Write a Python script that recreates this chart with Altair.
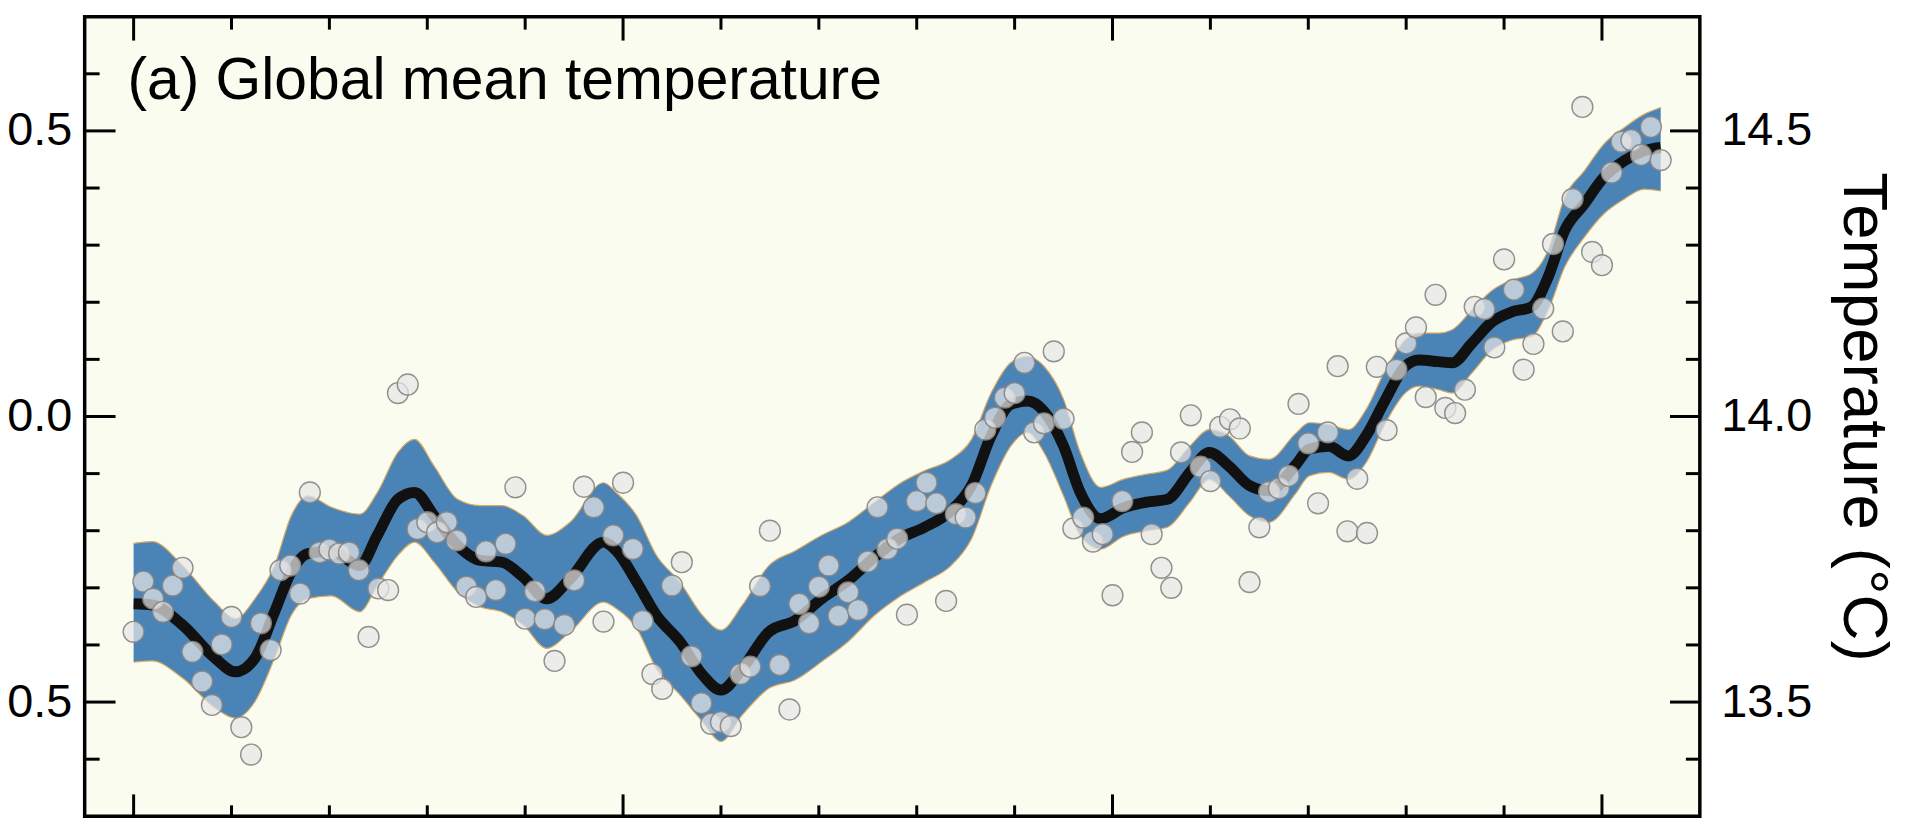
import altair as alt
import pandas as pd

# ---------------- data ----------------
years = list(range(1850, 2007))
anomaly = [
    -0.377, -0.289, -0.319, -0.342, -0.296, -0.265, -0.412, -0.464, -0.505, -0.399,  # 1850s
    -0.351, -0.544, -0.592, -0.362, -0.409, -0.269, -0.261, -0.310, -0.133, -0.238,  # 1860s
    -0.233, -0.240, -0.238, -0.269, -0.386, -0.301, -0.304, 0.041, 0.056, -0.197,    # 1870s
    -0.185, -0.203, -0.185, -0.217, -0.298, -0.316, -0.236, -0.304, -0.223, -0.124,  # 1880s
    -0.354, -0.306, -0.355, -0.428, -0.365, -0.287, -0.123, -0.159, -0.359, -0.208,  # 1890s
    -0.116, -0.232, -0.358, -0.451, -0.477, -0.296, -0.255, -0.420, -0.502, -0.538,  # 1900s
    -0.535, -0.542, -0.451, -0.438, -0.297, -0.200, -0.435, -0.513, -0.328, -0.362,  # 1910s
    -0.298, -0.261, -0.349, -0.308, -0.339, -0.254, -0.159, -0.232, -0.214, -0.347,  # 1920s
    -0.148, -0.116, -0.152, -0.323, -0.171, -0.177, -0.134, -0.023, -0.002, 0.033,   # 1930s
    0.041, 0.094, -0.028, -0.012, 0.114, -0.004, -0.196, -0.177, -0.219, -0.206,     # 1940s
    -0.313, -0.148, -0.062, -0.028, -0.206, -0.265, -0.300, -0.063, 0.002, -0.088,   # 1950s
    -0.113, -0.018, -0.005, -0.021, -0.290, -0.194, -0.132, -0.126, -0.104, 0.022,   # 1960s
    -0.047, -0.152, -0.028, 0.088, -0.201, -0.109, -0.204, 0.087, -0.024, 0.082,     # 1970s
    0.128, 0.156, 0.034, 0.213, 0.015, 0.006, 0.047, 0.192, 0.188, 0.121,            # 1980s
    0.275, 0.222, 0.082, 0.127, 0.189, 0.302, 0.149, 0.381, 0.542, 0.288,            # 1990s
    0.265, 0.427, 0.481, 0.484, 0.458, 0.507, 0.449,                                 # 2000s
]

smooth_year = [1850.0, 1851.9, 1855.0, 1858.3, 1860.4, 1862.4, 1864.4, 1866.1, 1867.8, 1870.2,
               1873.1, 1874.9, 1877.0, 1878.7, 1880.7, 1883.1, 1885.4, 1887.6, 1889.8, 1892.2,
               1894.6, 1898.0, 1899.3, 1901.4, 1903.4, 1905.8, 1908.1, 1910.0, 1912.2, 1914.9,
               1917.6, 1920.3, 1923.0, 1925.7, 1928.2, 1930.8, 1933.5, 1935.6, 1937.6, 1939.6,
               1941.3, 1943.0, 1945.0, 1946.7, 1948.8, 1951.1, 1953.5, 1955.6, 1957.9, 1959.9,
               1961.9, 1964.0, 1966.0, 1968.7, 1970.1, 1972.1, 1974.1, 1975.9, 1977.9, 1979.9,
               1981.3, 1983.3, 1984.7, 1986.7, 1988.8, 1990.8, 1992.8, 1994.5, 1996.2, 1998.2,
               2000.2, 2002.3, 2004.3, 2006.0]
smooth_mid = [-0.328, -0.330, -0.365, -0.423, -0.447, -0.423, -0.342, -0.272, -0.240, -0.236,
              -0.261, -0.208, -0.145, -0.133, -0.174, -0.226, -0.252, -0.255, -0.281, -0.319,
              -0.284, -0.220, -0.235, -0.290, -0.348, -0.394, -0.452, -0.479, -0.441, -0.377,
              -0.357, -0.319, -0.287, -0.246, -0.214, -0.194, -0.165, -0.121, -0.034, 0.021,
              0.027, 0.009, -0.052, -0.133, -0.179, -0.160, -0.150, -0.145, -0.098, -0.063,
              -0.087, -0.121, -0.130, -0.085, -0.057, -0.052, -0.069, -0.034, 0.030, 0.088,
              0.099, 0.096, 0.094, 0.128, 0.166, 0.183, 0.192, 0.244, 0.326, 0.372,
              0.419, 0.448, 0.465, 0.471]
smooth_hi = [-0.222, -0.219, -0.261, -0.325, -0.354, -0.319, -0.261, -0.174, -0.139, -0.159,
             -0.171, -0.133, -0.063, -0.040, -0.087, -0.145, -0.156, -0.156, -0.174, -0.208,
             -0.185, -0.116, -0.133, -0.174, -0.243, -0.290, -0.348, -0.374, -0.330, -0.261,
             -0.235, -0.208, -0.185, -0.150, -0.118, -0.095, -0.075, -0.040, 0.041, 0.094,
             0.105, 0.088, 0.030, -0.063, -0.124, -0.110, -0.101, -0.094, -0.052, -0.023,
             -0.034, -0.069, -0.075, -0.030, -0.011, -0.014, -0.023, 0.012, 0.082, 0.134,
             0.146, 0.146, 0.152, 0.186, 0.221, 0.239, 0.250, 0.291, 0.384, 0.430,
             0.477, 0.506, 0.529, 0.541]
smooth_lo = [-0.430, -0.428, -0.458, -0.510, -0.528, -0.499, -0.423, -0.348, -0.319, -0.314,
             -0.342, -0.296, -0.243, -0.220, -0.255, -0.307, -0.333, -0.342, -0.365, -0.406,
             -0.377, -0.325, -0.336, -0.371, -0.441, -0.487, -0.534, -0.569, -0.522, -0.476,
             -0.461, -0.429, -0.394, -0.348, -0.316, -0.290, -0.261, -0.214, -0.121, -0.052,
             -0.028, -0.063, -0.139, -0.208, -0.232, -0.210, -0.200, -0.194, -0.150, -0.110,
             -0.139, -0.174, -0.185, -0.135, -0.104, -0.098, -0.110, -0.081, -0.011, 0.041,
             0.053, 0.047, 0.041, 0.076, 0.117, 0.134, 0.140, 0.186, 0.262, 0.314,
             0.355, 0.381, 0.398, 0.395]

y_major_ticks = [-0.5, 0.0, 0.5]
y_minor_ticks = [-0.6, -0.4, -0.3, -0.2, -0.1, 0.1, 0.2, 0.3, 0.4, 0.6]
x_major_ticks = [1850, 1900, 1950, 2000]
x_minor_ticks = [1860, 1870, 1880, 1890, 1910, 1920, 1930, 1940, 1960, 1970, 1980, 1990]
absolute_offset = 14.0
panel_title = ["(a) Global mean temperature"]
right_title = "Temperature (°C)"

# ---------------- layout / style ----------------
W, H = 1622, 803
FONT = "Liberation Sans"
BAND = "#4A83B5"
EDGE = "#D9A862"

xs = alt.Scale(domain=[1845, 2010], nice=False, zero=False)
ys = alt.Scale(domain=[-0.7, 0.7], nice=False, zero=False)

pts = pd.DataFrame({"year": years, "anom": anomaly})
sm = pd.DataFrame({"year": smooth_year, "mid": smooth_mid, "hi": smooth_hi, "lo": smooth_lo})

left_axis = alt.Axis(orient="left", values=y_major_ticks, labelExpr="replace(format(datum.value, '.1f'), '\u2212', '-')",
                     ticks=False, tickSize=0,
                     domain=False, grid=False, labelFontSize=47, labelPadding=13, title=None,
                     labelColor="black", labelFont=FONT)
right_axis = alt.Axis(orient="right", values=y_major_ticks,
                      labelExpr=f"format(datum.value + {absolute_offset}, '.1f')",
                      ticks=False, tickSize=0, domain=False, grid=False, labelFontSize=47,
                      labelPadding=21, labelColor="black", labelFont=FONT,
                      title=right_title, titleFontSize=64, titleFont=FONT, titleFontWeight="normal",
                      titleColor="black", titleAngle=90, titlePadding=19)

X = alt.X("year:Q", scale=xs, axis=None)

band = alt.Chart(sm).mark_area(color=BAND, interpolate="monotone", opacity=1).encode(
    x=X, y=alt.Y("lo:Q", scale=ys, axis=left_axis), y2="hi:Q")
edge_hi = alt.Chart(sm).mark_line(color=EDGE, strokeWidth=1.2, interpolate="monotone").encode(
    x=X, y=alt.Y("hi:Q", scale=ys, axis=None))
edge_lo = alt.Chart(sm).mark_line(color=EDGE, strokeWidth=1.2, interpolate="monotone").encode(
    x=X, y=alt.Y("lo:Q", scale=ys, axis=None))
mid = alt.Chart(sm).mark_line(color="#111111", strokeWidth=11, interpolate="monotone",
                              strokeCap="butt").encode(
    x=X, y=alt.Y("mid:Q", scale=ys, axis=right_axis))
dots = alt.Chart(pts).mark_circle(size=440, fill="#E6E6E6", fillOpacity=0.72, stroke="#858585",
                                  strokeWidth=1.4, strokeOpacity=0.9, opacity=1).encode(
    x=X, y=alt.Y("anom:Q", scale=ys, axis=None))


def yticks(vals, x0, x1):
    return alt.Chart(pd.DataFrame({"v": vals})).mark_rule(color="black", strokeWidth=3).encode(
        y=alt.Y("v:Q", scale=ys, axis=None), x=alt.value(x0), x2=alt.value(x1))


def xticks(vals, y0, y1):
    return alt.Chart(pd.DataFrame({"v": vals})).mark_rule(color="black", strokeWidth=3).encode(
        x=alt.X("v:Q", scale=xs, axis=None), y=alt.value(y0), y2=alt.value(y1))


tick_layers = [
    yticks(y_major_ticks, 0, 31), yticks(y_minor_ticks, 0, 15),
    yticks(y_major_ticks, W, W - 30), yticks(y_minor_ticks, W, W - 14),
    xticks(x_major_ticks, 0, 24), xticks(x_minor_ticks, 0, 13),
    xticks(x_major_ticks, H, H - 22), xticks(x_minor_ticks, H, H - 11),
]

label = alt.Chart(pd.DataFrame({"t": panel_title})).mark_text(
    align="left", baseline="alphabetic", fontSize=59, font=FONT, color="black").encode(
    text="t:N", x=alt.value(43), y=alt.value(83))

chart = alt.layer(band, edge_hi, edge_lo, mid, dots, *tick_layers, label).resolve_axis(
    y="independent"
).properties(
    width=W, height=H,
    padding={"left": 77, "top": 7, "right": 200, "bottom": 2},
    autosize=alt.AutoSizeParams(type="none"),
    background="white",
).configure_view(fill="#FAFCEF", stroke="black", strokeWidth=3.5)

chart.save("out.html", embed_options={"renderer": "svg", "actions": False})
